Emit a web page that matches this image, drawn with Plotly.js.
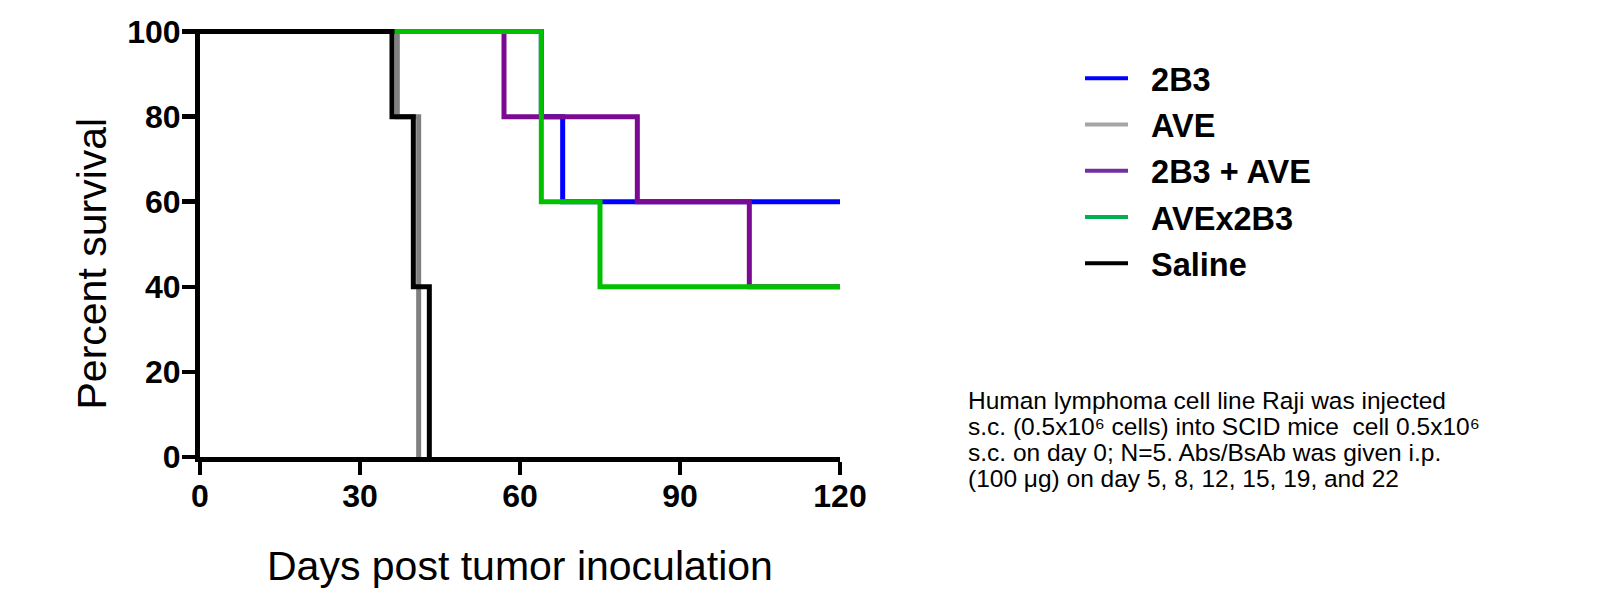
<!DOCTYPE html>
<html>
<head>
<meta charset="utf-8">
<script src="https://cdn.plot.ly/plotly-3.0.1.min.js"></script>
<style>
  html, body { margin: 0; padding: 0; background: #fff; }
  #chart { width: 1621px; height: 597px; }
</style>
</head>
<body>
<div id="chart"></div>
<script>
// Kaplan–Meier step data (days, percent survival)
const seriesNames = ["2B3", "AVE", "2B3 + AVE", "AVEx2B3", "Saline"];
const days2B3 = [0, 64, 68, 120];
const surv2B3 = [100, 80, 60, 60];
const daysAVE = [0, 37, 41];
const survAVE = [100, 80, 0];
const daysCombo = [0, 57, 82, 103, 120];
const survCombo = [100, 80, 60, 40, 40];
const daysBs = [0, 64, 75, 120];
const survBs = [100, 60, 40, 40];
const daysSaline = [0, 36, 40, 43];
const survSaline = [100, 80, 40, 0];
const xTicks = [0, 30, 60, 90, 120];
const yTicks = [0, 20, 40, 60, 80, 100];

const lineColors = ["#0000FF", "#808080", "#7A0A92", "#00C000", "#000000"];
const legendColors = ["#0000FF", "#A6A6A6", "#7030A0", "#00B050", "#000000"];
const xs = [days2B3, daysAVE, daysCombo, daysBs, daysSaline];
const ys = [surv2B3, survAVE, survCombo, survBs, survSaline];

const FONT = "Arial, 'Liberation Sans', sans-serif";

const traces = [];
for (let i = 0; i < seriesNames.length; i++) {
  traces.push({
    type: "scatter", mode: "lines",
    x: xs[i], y: ys[i],
    line: { shape: "hv", color: lineColors[i], width: 5 },
    showlegend: false, hoverinfo: "skip"
  });
}
for (let i = 0; i < seriesNames.length; i++) {
  traces.push({
    type: "scatter", mode: "lines",
    x: [null], y: [null],
    name: "\u00a0\u00a0" + seriesNames[i],
    legendgroup: "g" + i,
    line: { color: legendColors[i], width: 4 },
    showlegend: true
  });
}

const noteLines = [
  "Human lymphoma cell line Raji was injected",
  "s.c. (0.5x10\u2076 cells) into SCID mice \u00a0cell 0.5x10\u2076",
  "s.c. on day 0; N=5. Abs/BsAb was given i.p.",
  "(100 \u03bcg) on day 5, 8, 12, 15, 19, and 22"
];
const annotations = noteLines.map((t, k) => ({
  xref: "paper", yref: "paper",
  x: (966 - 200) / 640, y: 1 - (400 + k * 26.3 - 29) / 428,
  xanchor: "left", yanchor: "middle", showarrow: false, align: "left",
  text: t, font: { family: FONT, size: 24.5, color: "#000" }
}));
annotations.push({
  xref: "paper", yref: "paper", x: 0.5, y: 1 - (566 - 29) / 428,
  xanchor: "center", yanchor: "middle", showarrow: false,
  text: "Days post tumor inoculation",
  font: { family: FONT, size: 41, color: "#000" }
});
annotations.push({
  xref: "paper", yref: "paper", x: (91 - 200) / 640, y: 1 - (263.5 - 29) / 428,
  xanchor: "center", yanchor: "middle", showarrow: false, textangle: -90,
  text: "Percent survival",
  font: { family: FONT, size: 41, color: "#000" }
});

const layout = {
  width: 1621, height: 597,
  margin: { l: 200, r: 781, t: 29, b: 140, pad: 0 },
  paper_bgcolor: "#fff", plot_bgcolor: "#fff",
  showlegend: true,
  legend: {
    x: (1080 - 200) / 640, y: 1 - (50.5 - 29) / 428, xanchor: "left", yanchor: "top",
    font: { family: FONT, size: 32.5, color: "#000", weight: "bold" },
    bgcolor: "rgba(0,0,0,0)", borderwidth: 0, itemwidth: 43,
    tracegroupgap: 1
  },
  xaxis: {
    range: [0, 120], tickvals: xTicks, ticktext: xTicks.map(String),
    showgrid: false, zeroline: false,
    showline: true, linecolor: "#000", linewidth: 5,
    ticks: "outside", ticklen: 13, tickwidth: 4.5, tickcolor: "#000",
    tickfont: { family: FONT, size: 32, color: "#000", weight: "bold" },
    ticklabelstandoff: -6,
    fixedrange: true
  },
  yaxis: {
    range: [0, 100.6], tickvals: yTicks, ticktext: yTicks.map(String),
    showgrid: false, zeroline: false,
    showline: true, linecolor: "#000", linewidth: 5,
    ticks: "outside", ticklen: 13, tickwidth: 4.5, tickcolor: "#000",
    tickfont: { family: FONT, size: 32, color: "#000", weight: "bold" },
    ticklabelstandoff: -5,
    fixedrange: true
  },
  annotations: annotations
};

Plotly.newPlot("chart", traces, layout, { displayModeBar: false, staticPlot: true });
</script>
</body>
</html>
